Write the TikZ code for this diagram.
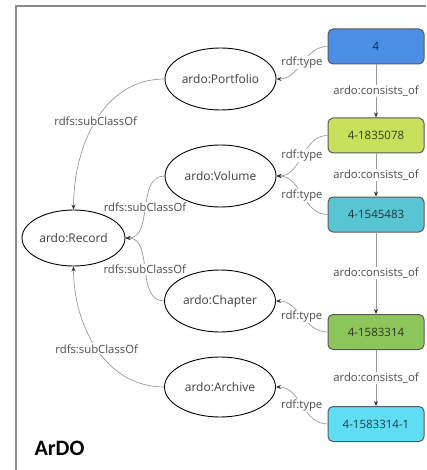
\documentclass[tikz,border=0pt]{standalone}
\usepackage{fontspec}
\setmainfont{Open Sans}
\newfontfamily\titlefont{Carlito}
\usetikzlibrary{arrows.meta,shapes.geometric}

\definecolor{cBlue}{HTML}{4A8EE6}
\definecolor{cLime}{HTML}{C8E05C}
\definecolor{cTeal}{HTML}{58C6D2}
\definecolor{cGreen}{HTML}{8CC65A}
\definecolor{cCyan}{HTML}{5EDDF5}
\definecolor{edgegray}{HTML}{9A9A9A}
\definecolor{framegray}{HTML}{8A8A8A}

\tikzset{
  x=1pt, y=1pt,
  cls/.style={ellipse, draw=black, line width=0.9pt, minimum width=111pt,
    minimum height=62pt, inner sep=0pt, text=black!75,
    font=\fontsize{12}{14}\selectfont},
  res/.style={rectangle, rounded corners=5pt, draw=black!65, line width=1pt,
    minimum width=96pt, minimum height=35pt, inner sep=0pt, text=black,
    text opacity=0.72, font=\fontsize{11.5}{13}\selectfont},
  rel/.style={draw=edgegray, line width=0.7pt,
    -{Stealth[length=5pt,width=4pt,color=black!80]}},
  lbl/.style={fill=white, inner sep=1pt, text=black!70,
    font=\fontsize{11.3}{13}\selectfont}
}

\begin{document}
\begin{tikzpicture}
\useasboundingbox (0,0) rectangle (426,-470);

% frame (top and left edges)
\draw[framegray, line width=1.2pt] (426,-6) -- (16,-6) -- (16,-470);

% resources
\node[res, fill=cBlue]  (r4) at (376,-46.5)  {4};
\node[res, fill=cLime]  (r1) at (376,-135.5) {4-1835078};
\node[res, fill=cTeal]  (r2) at (376,-214.5) {4-1545483};
\node[res, fill=cGreen] (r3) at (376,-332)   {4-1583314};
\node[res, fill=cCyan]  (r5) at (376,-424)   {4-1583314-1};

% classes
\node[cls] (portfolio) at (220.5,-79)  {ardo:Portfolio};
\node[cls] (volume)    at (220.5,-176) {ardo:Volume};
\node[cls] (chapter)   at (220,-301)   {ardo:Chapter};
\node[cls, minimum height=60pt] (archive) at (220,-387) {ardo:Archive};
\node[cls, minimum width=103pt, minimum height=56pt] (record) at (73.5,-238) {ardo:Record};

% consists_of chain
\draw[rel] (r4) -- node[lbl] {ardo:consists\_of} (r1);
\draw[rel] (r1) -- node[lbl] {ardo:consists\_of} (r2);
\draw[rel] (r2) -- node[lbl] {ardo:consists\_of} (r3);
\draw[rel] (r3) -- node[lbl] {ardo:consists\_of} (r5);

% rdf:type links
\draw[rel] (r4.west) to[out=180,in=0] node[lbl] {rdf:type} (portfolio.east);
\draw[rel] (r1.west) to[out=180,in=0] node[lbl] {rdf:type} (volume.east);
\draw[rel] (r2.west) to[out=180,in=0] node[lbl] {rdf:type} (volume.east);
\draw[rel] (r3.west) to[out=180,in=0] node[lbl] {rdf:type} (chapter.east);
\draw[rel] (r5.west) to[out=180,in=0] node[lbl] {rdf:type} (archive.east);

% subclass links
\draw[rel] (portfolio.west) to[out=180,in=90]  node[lbl] {rdfs:subClassOf} (record.north);
\draw[rel] (volume.west)    to[out=180,in=0]   node[lbl] {rdfs:subClassOf} (record.east);
\draw[rel] (chapter.west)   to[out=180,in=0]   node[lbl] {rdfs:subClassOf} (record.east);
\draw[rel] (archive.west)   to[out=180,in=-90] node[lbl] {rdfs:subClassOf} (record.south);

% title
\node[anchor=base west, font=\titlefont\bfseries\fontsize{22}{24}\selectfont]
  (title) at (31,-455) {ArDO};
\end{tikzpicture}
\end{document}
